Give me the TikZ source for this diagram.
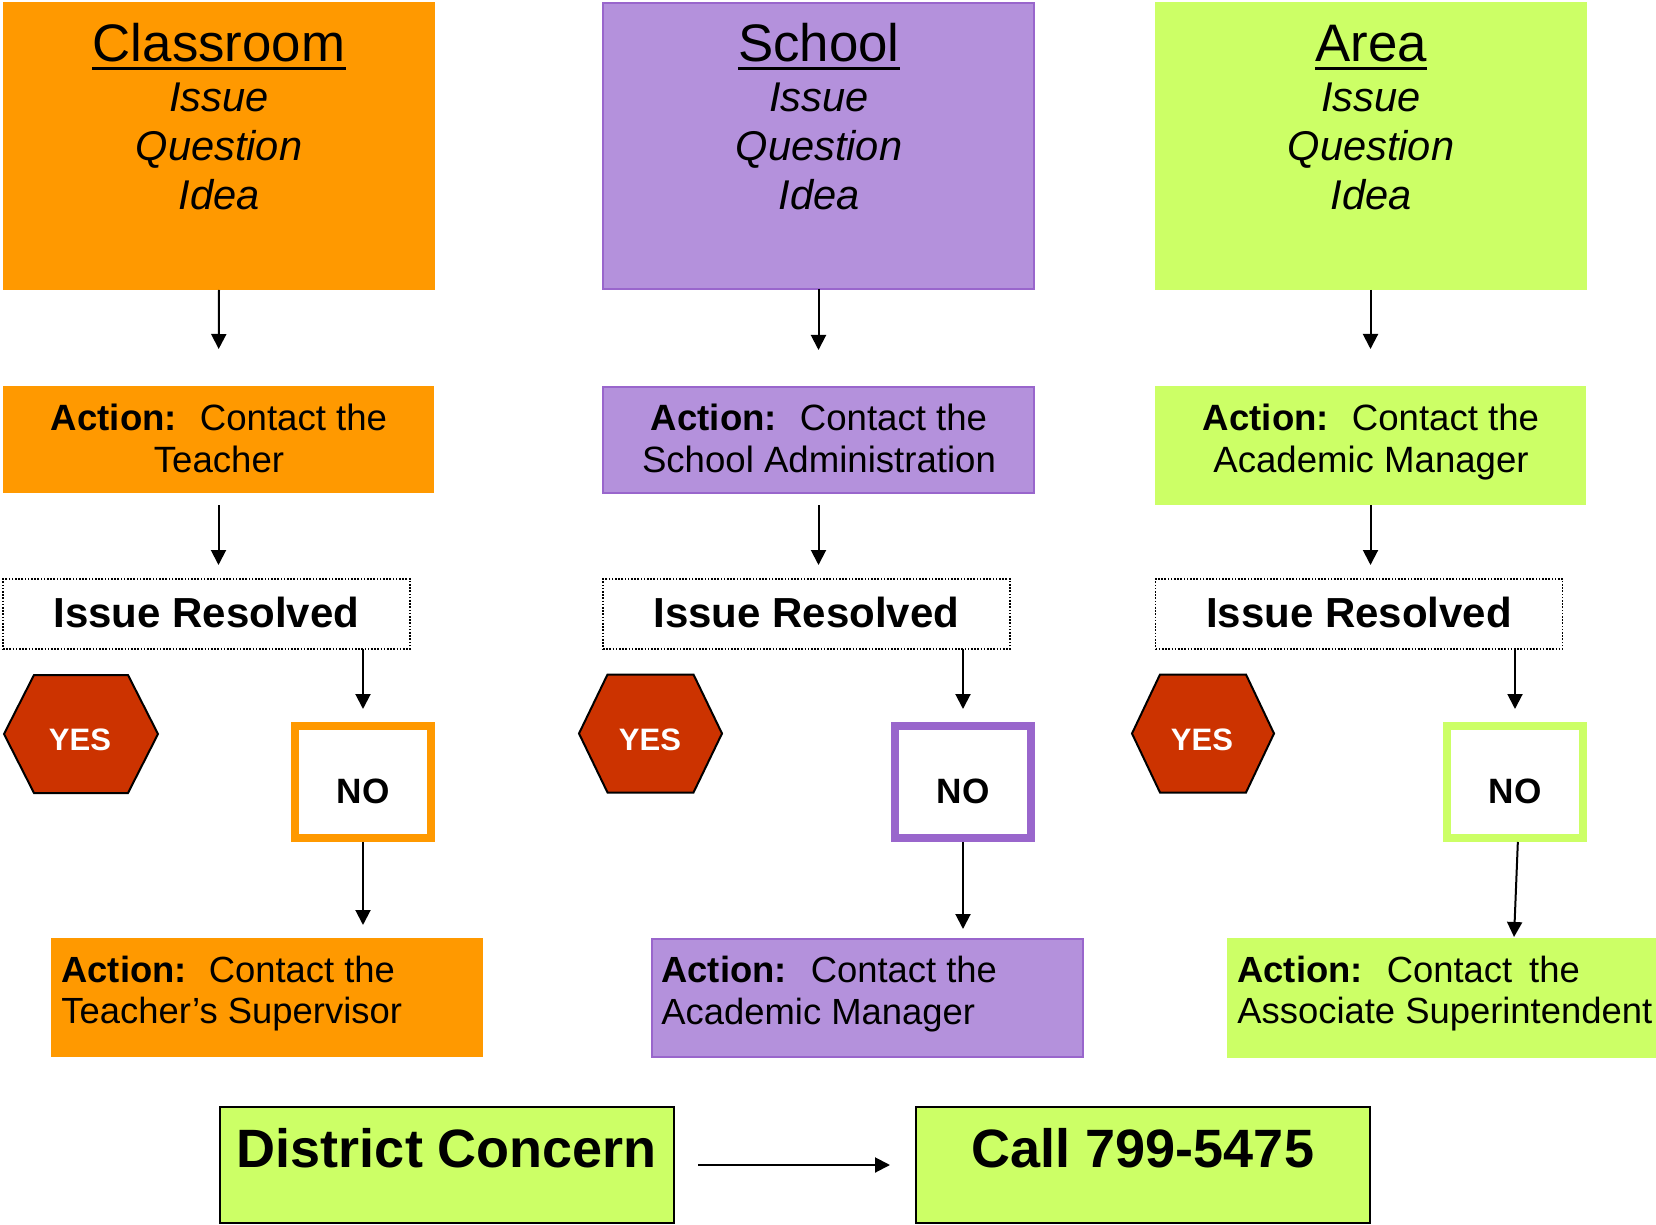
\documentclass[tikz,border=0pt]{standalone}
\usepackage{fontspec}
\setmainfont{Liberation Sans}
\usepackage{graphicx}
\usetikzlibrary{arrows.meta}
\definecolor{corange}{HTML}{FF9900}
\definecolor{cpurple}{HTML}{B491DC}
\definecolor{cpurpleline}{HTML}{9966CC}
\definecolor{cgreen}{HTML}{CCFF66}
\definecolor{cred}{HTML}{CC3300}
\begin{document}
\begin{tikzpicture}[x=0.5pt,y=-0.5pt,
  box/.style={rectangle, inner sep=0pt, outer sep=0pt},
  pbox/.style={box, draw=cpurpleline, line width=1pt},
  title/.style={anchor=base, inner sep=0pt, font=\fontsize{26.4}{30}\selectfont},
  itl/.style={anchor=base, inner sep=0pt, font=\fontsize{20.8}{24}\selectfont\itshape},
  act/.style={anchor=base, inner sep=0pt, font=\fontsize{18.3}{21}\selectfont},
  actl/.style={anchor=base west, inner sep=0pt, font=\fontsize{18.2}{21}\selectfont},
  irbox/.style={box, draw=black, line width=0.9pt, dash pattern=on 0.8pt off 0.8pt,
    minimum width=203.5pt, minimum height=35pt, text height=15pt, text depth=2pt,
    font=\fontsize{21}{25}\selectfont\bfseries},
  hexs/.style={fill=cred, draw=black, line width=1pt, line join=miter},
  yestxt/.style={anchor=base, inner sep=0pt, text=white, font=\fontsize{15.5}{18}\selectfont\bfseries},
  nobox/.style={box, fill=white, line width=4pt, minimum width=68pt, minimum height=56pt,
    text height=21pt, text depth=0pt, font=\fontsize{17.6}{20}\selectfont\bfseries},
  uline/.style={line width=1.5pt},
  arr/.style={line width=1pt, -{Triangle[length=7.5pt,width=7.5pt]}},
  big/.style={anchor=base, inner sep=0pt, font=\fontsize{27}{32}\selectfont\bfseries}
]
\useasboundingbox (0,0) rectangle (1656,1225);

% ---------- top boxes ----------
\node[box, fill=corange, minimum width=216pt, minimum height=144pt] (top1) at (219,146) {};
\node[pbox, fill=cpurple, minimum width=215.5pt, minimum height=143pt] (top2) at (818.5,146) {};
\node[box, fill=cgreen, minimum width=216pt, minimum height=144pt] (top3) at (1370.5,146) {};

\node[title] (t1) at (219,62) {Classroom};
\node[title] (t2) at (819,62) {School};
\node[title] (t3) at (1371,62) {Area};
\foreach \t in {t1,t2,t3}
  \draw[uline] ([yshift=-3.5pt]\t.base west) -- ([yshift=-3.5pt]\t.base east);

\node[itl] (t1a) at (219,112) {Issue};
\node[itl] (t1b) at (219,161) {Question};
\node[itl] (t1c) at (219,210) {Idea};
\node[itl] (t2a) at (819,112) {Issue};
\node[itl] (t2b) at (819,161) {Question};
\node[itl] (t2c) at (819,210) {Idea};
\node[itl] (t3a) at (1371,112) {Issue};
\node[itl] (t3b) at (1371,161) {Question};
\node[itl] (t3c) at (1371,210) {Idea};

% ---------- first action boxes ----------
\node[box, fill=corange, minimum width=215.5pt, minimum height=53.5pt] (a1) at (218.5,439.5) {};
\node[pbox, fill=cpurple, minimum width=215.5pt, minimum height=53pt] (a2) at (818.5,440) {};
\node[box, fill=cgreen, minimum width=215.5pt, minimum height=59.5pt] (a3) at (1370.5,445.5) {};

\node[act] (a1l1) at (219,430) {\textbf{Action:}\hspace{11.5pt}Contact the};
\node[act] (a1l2) at (219,473) {Teacher};
\node[act] (a2l1) at (819,430) {\textbf{Action:}\hspace{11.5pt}Contact the};
\node[act] (a2l2) at (819,473) {School Administration};
\node[act] (a3l1) at (1371,430) {\textbf{Action:}\hspace{11.5pt}Contact the};
\node[act] (a3l2) at (1371,473) {Academic Manager};

% ---------- issue resolved ----------
\node[irbox] (r1) at (206.5,614) {Issue Resolved};
\node[irbox] (r2) at (806.5,614) {Issue Resolved};
\node[irbox] (r3) at (1359,614) {Issue Resolved};

% ---------- YES hexagons ----------
\coordinate (h1) at (81,734);
\coordinate (h2) at (650.5,733.5);
\coordinate (h3) at (1203,733.5);
\draw[hexs] (h1) ++(-77,0) -- ++(30,-59) -- ++(94,0) -- ++(30,59) -- ++(-30,59) -- ++(-94,0) -- cycle;
\draw[hexs] (h2) ++(-71.5,0) -- ++(28.5,-59) -- ++(86,0) -- ++(28.5,59) -- ++(-28.5,59) -- ++(-86,0) -- cycle;
\draw[hexs] (h3) ++(-71,0) -- ++(28,-59) -- ++(86,0) -- ++(28,59) -- ++(-28,59) -- ++(-86,0) -- cycle;
\node[yestxt] (y1) at (80,750) {YES};
\node[yestxt] (y2) at (650,750) {YES};
\node[yestxt] (y3) at (1202,750) {YES};

% ---------- NO boxes ----------
\node[nobox, draw=corange] (n1) at (363,782) {NO};
\node[nobox, draw=cpurpleline] (n2) at (963,782) {NO};
\node[nobox, draw=cgreen] (n3) at (1515,782) {NO};

% ---------- second action boxes ----------
\node[box, fill=corange, minimum width=216pt, minimum height=59.5pt] (b1) at (267,997.5) {};
\node[pbox, fill=cpurple, minimum width=215.5pt, minimum height=59pt] (b2) at (867.5,998) {};
\node[box, fill=cgreen, minimum width=214.5pt, minimum height=60pt] (b3) at (1441.5,998) {};

\node[actl] (b1l1) at (61,982) {\textbf{Action:}\hspace{11pt}Contact the};
\node[actl] (b1l2) at (61,1023) {Teacher’s Supervisor};
\node[actl] (b2l1) at (661,982) {\textbf{Action:}\hspace{12pt}Contact the};
\node[actl] (b2l2) at (661,1024) {Academic Manager};
\node[actl] (b3l1) at (1237,982) {\textbf{Action:}\hspace{12pt}Contact\hspace{8.5pt}the};
\node[actl] (b3l2) at (1237,1023) {Associate Superintendent};

% ---------- district ----------
\node[box, fill=cgreen, draw=black, line width=1pt, minimum width=227pt, minimum height=58pt] (dist) at (447,1165) {};
\node[box, fill=cgreen, draw=black, line width=1pt, minimum width=227pt, minimum height=58pt] (call) at (1143,1165) {};
\node[big] (distt) at (447,1167) {District Concern};
\node[big] (callt) at (1143,1167) {Call 799-5475};

% ---------- connectors ----------
\draw[arr, shorten >=18.5pt] (top1.south) -- (a1.north);
\draw[arr, shorten >=18.5pt] (top2.south) -- (a2.north);
\draw[arr, shorten >=18.5pt] (top3.south) -- (a3.north);

\draw[arr, shorten <=6pt, shorten >=7pt] (a1.south) -- (a1.south |- r1.north);
\draw[arr, shorten <=6pt, shorten >=7pt] (a2.south) -- (a2.south |- r2.north);
\draw[arr, shorten >=7pt] (a3.south) -- (a3.south |- r3.north);

\draw[arr, shorten >=8.5pt] (n1.north |- r1.south) -- (n1.north);
\draw[arr, shorten >=8.5pt] (n2.north |- r2.south) -- (n2.north);
\draw[arr, shorten >=8.5pt] (n3.north |- r3.south) -- (n3.north);

\draw[arr, shorten <=2pt, shorten >=6.5pt] (n1.south) -- (n1.south |- b1.north);
\draw[arr, shorten <=2pt, shorten >=5pt] (n2.south) -- (n2.south |- b2.north);
\coordinate (e3) at (n3.south |- b3.north);
\draw[arr, shorten <=2pt, shorten >=0.5pt] ([xshift=1.5pt]n3.south) -- ([xshift=-0.5pt]e3);

\draw[arr, shorten <=12pt, shorten >=13pt] (dist.east) -- (call.west);
\end{tikzpicture}
\end{document}
